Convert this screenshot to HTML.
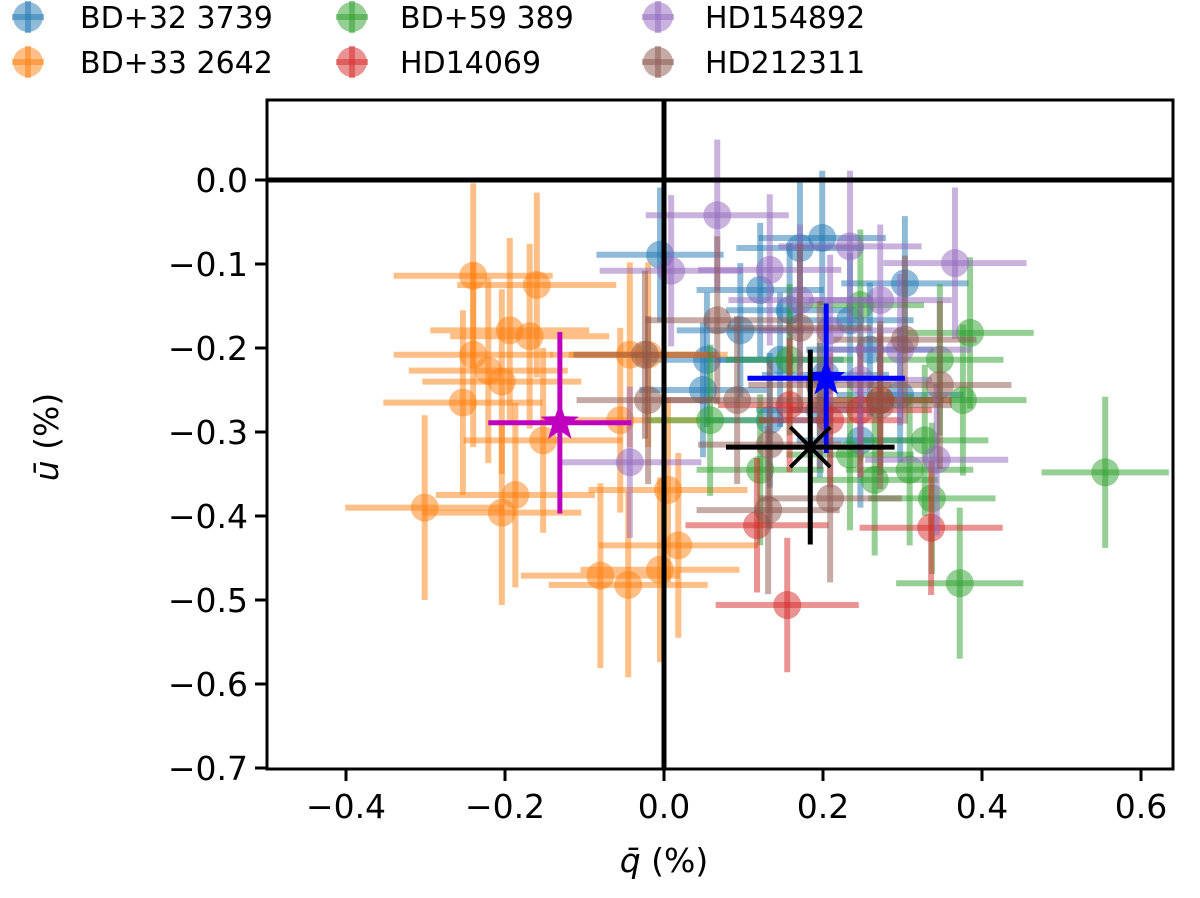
<!DOCTYPE html>
<html><head><meta charset="utf-8"><style>
html,body{margin:0;padding:0;background:#fff;}
svg text{font-family:"DejaVu Sans","Liberation Sans",sans-serif;fill:#000;}
</style></head><body>
<svg id="chart" width="1200" height="893" viewBox="0 0 1200 893" xmlns="http://www.w3.org/2000/svg"></svg>
<script>
const seriesNames=["BD+32 3739","BD+33 2642","BD+59 389","HD14069","HD154892","HD212311"];
const seriesColors=["#1f77b4","#ff7f0e","#2ca02c","#d62728","#9467bd","#8c564b"];
const qBlue=[0.199,0.171,0.303,-0.005,0.054,0.049,0.121,0.158,0.234,0.259,0.096,0.146,0.203,0.297,0.196,0.247,0.133];
const uBlue=[-0.069,-0.081,-0.123,-0.089,-0.214,-0.250,-0.131,-0.155,-0.167,-0.202,-0.179,-0.214,-0.232,-0.256,-0.274,-0.310,-0.286];
const qOrange=[-0.240,-0.160,-0.240,-0.194,-0.169,-0.221,-0.204,-0.253,-0.152,-0.301,-0.187,-0.204,-0.080,-0.045,-0.005,0.018,0.005,-0.043,-0.020,-0.055];
const uOrange=[-0.114,-0.125,-0.208,-0.179,-0.186,-0.227,-0.240,-0.265,-0.310,-0.390,-0.375,-0.396,-0.471,-0.482,-0.464,-0.435,-0.369,-0.208,-0.208,-0.286];
const qGreen=[0.555,0.372,0.337,0.385,0.376,0.265,0.309,0.234,0.121,0.158,0.247,0.347,0.058,0.272,0.328];
const uGreen=[-0.348,-0.480,-0.379,-0.182,-0.262,-0.357,-0.345,-0.327,-0.345,-0.214,-0.149,-0.214,-0.286,-0.262,-0.310];
const qRed=[0.155,0.117,0.336,0.158,0.247,0.272,0.209];
const uRed=[-0.506,-0.411,-0.414,-0.268,-0.274,-0.262,-0.286];
const qPurple=[0.067,0.009,0.366,0.234,0.133,-0.043,0.343,0.272,0.171,0.209,0.297,0.247];
const uPurple=[-0.042,-0.108,-0.099,-0.079,-0.107,-0.336,-0.333,-0.143,-0.143,-0.179,-0.202,-0.238];
const qBrown=[-0.024,-0.020,0.067,0.092,0.171,0.133,0.131,0.209,0.347,0.303,0.272,0.196];
const uBrown=[-0.208,-0.262,-0.167,-0.262,-0.176,-0.315,-0.393,-0.379,-0.244,-0.190,-0.268,-0.244];
const qErrs=[0.08,0.1,0.08,0.09,0.09,0.09];
const uErrs=[0.08,0.11,0.09,0.08,0.09,0.1];
const meanQ=[-0.131,0.204,0.184];
const meanU=[-0.289,-0.236,-0.318];
const meanQErr=[0.09,0.099,0.106];
const meanUErr=[0.108,0.089,0.116];
const xTicks=[-0.4,-0.2,0.0,0.2,0.4,0.6];
const yTicks=[0.0,-0.1,-0.2,-0.3,-0.4,-0.5,-0.6,-0.7];

const svg=document.getElementById('chart');
const NS='http://www.w3.org/2000/svg';
const L=267,R=1173,T=100,B=769;
function xs(q){return 664+q*795;}
function ys(u){return 180-u*840;}
function mk(tag,attrs,parent){const e=document.createElementNS(NS,tag);for(const k in attrs)e.setAttribute(k,attrs[k]);(parent||svg).appendChild(e);return e;}
const clip=mk('clipPath',{id:'pc'});mk('rect',{x:L,y:T,width:R-L,height:B-T},clip);
const plot=mk('g',{'clip-path':'url(#pc)'});


const allQ=[qBlue,qOrange,qGreen,qRed,qPurple,qBrown];
const allU=[uBlue,uOrange,uGreen,uRed,uPurple,uBrown];
allQ.forEach((qs,s)=>{
  const g=mk('g',{},plot);
  
  
  qs.forEach((q,i)=>{
    const u=allU[s][i],c=seriesColors[s],x=xs(q),y=ys(u);
    const p=mk('g',{},g);
    
    
    mk('line',{x1:xs(q-qErrs[s]),x2:xs(q+qErrs[s]),y1:y,y2:y,stroke:c,'stroke-width':6,'stroke-opacity':0.5},p);
    mk('line',{x1:x,x2:x,y1:ys(u-uErrs[s]),y2:ys(u+uErrs[s]),stroke:c,'stroke-width':6,'stroke-opacity':0.5},p);
    mk('circle',{cx:x,cy:y,r:14,fill:c,'fill-opacity':0.5},p);
  });
});
const zh=mk('line',{x1:L,x2:R,y1:ys(0),y2:ys(0),stroke:'#000','stroke-width':5});


const zv=mk('line',{x1:xs(0),x2:xs(0),y1:T,y2:B,stroke:'#000','stroke-width':5});


const meanColors=['#bf00bf','#0000ff','#000000'];
meanQ.forEach((q,i)=>{
  const g=mk('g',{});
  
  
  const c=meanColors[i],x=xs(q),y=ys(meanU[i]);
  mk('line',{x1:xs(q-meanQErr[i]),x2:xs(q+meanQErr[i]),y1:y,y2:y,stroke:c,'stroke-width':5},g);
  mk('line',{x1:x,x2:x,y1:ys(meanU[i]-meanUErr[i]),y2:ys(meanU[i]+meanUErr[i]),stroke:c,'stroke-width':5},g);
  if(i<2){
    let pts=[];for(let k=0;k<10;k++){const r=k%2?8:20,a=-Math.PI/2+k*Math.PI/5;pts.push((x+r*Math.cos(a)).toFixed(1)+','+(y+r*Math.sin(a)).toFixed(1));}
    mk('polygon',{points:pts.join(' '),fill:c},g);
  } else {
    mk('line',{x1:x-20,y1:y-20,x2:x+20,y2:y+20,stroke:c,'stroke-width':4},g);
    mk('line',{x1:x-20,y1:y+20,x2:x+20,y2:y-20,stroke:c,'stroke-width':4},g);
  }
});
const fr=mk('rect',{x:L,y:T,width:R-L,height:B-T,fill:'none',stroke:'#000','stroke-width':3});


xTicks.forEach(t=>{
  const x=xs(t);mk('line',{x1:x,x2:x,y1:B,y2:B+12,stroke:'#000','stroke-width':3});
  const tx=mk('text',{x:x,y:818,'text-anchor':'middle','font-size':33});
  tx.textContent=(t<0?'−':'')+Math.abs(t).toFixed(1);
  
  
});
yTicks.forEach(t=>{
  const y=ys(t);mk('line',{x1:L-12,x2:L,y1:y,y2:y,stroke:'#000','stroke-width':3});
  const tx=mk('text',{x:248,y:y+12,'text-anchor':'end','font-size':33});
  tx.textContent=(t<0?'−':'')+Math.abs(t).toFixed(1);
  
  
});
const xl=mk('text',{x:664,y:872,'text-anchor':'middle','font-size':33});
const xli=mk('tspan',{'font-style':'italic'},xl);xli.textContent='q̄';
mk('tspan',{},xl).textContent=' (%)';


const yl=mk('text',{x:0,y:0,'text-anchor':'middle','font-size':33,transform:'translate(58,437) rotate(-90)'});
const yli=mk('tspan',{'font-style':'italic'},yl);yli.textContent='ū';
mk('tspan',{},yl).textContent=' (%)';


const legX=[28,352,658],legY=[17,62],textX=[80,400,705];
seriesNames.forEach((n,i)=>{
  const col=Math.floor(i/2),row=i%2,x=legX[col],y=legY[row],c=seriesColors[i];
  const g=mk('g',{});
  
  
  mk('line',{x1:x-16,x2:x+16,y1:y,y2:y,stroke:c,'stroke-width':6,'stroke-opacity':0.5},g);
  mk('line',{x1:x,x2:x,y1:y-16,y2:y+16,stroke:c,'stroke-width':6,'stroke-opacity':0.5},g);
  mk('circle',{cx:x,cy:y,r:15,fill:c,'fill-opacity':0.5},g);
  const t=mk('text',{x:textX[col],y:y+11,'font-size':30},g);t.textContent=n;
});
</script>
</body></html>
